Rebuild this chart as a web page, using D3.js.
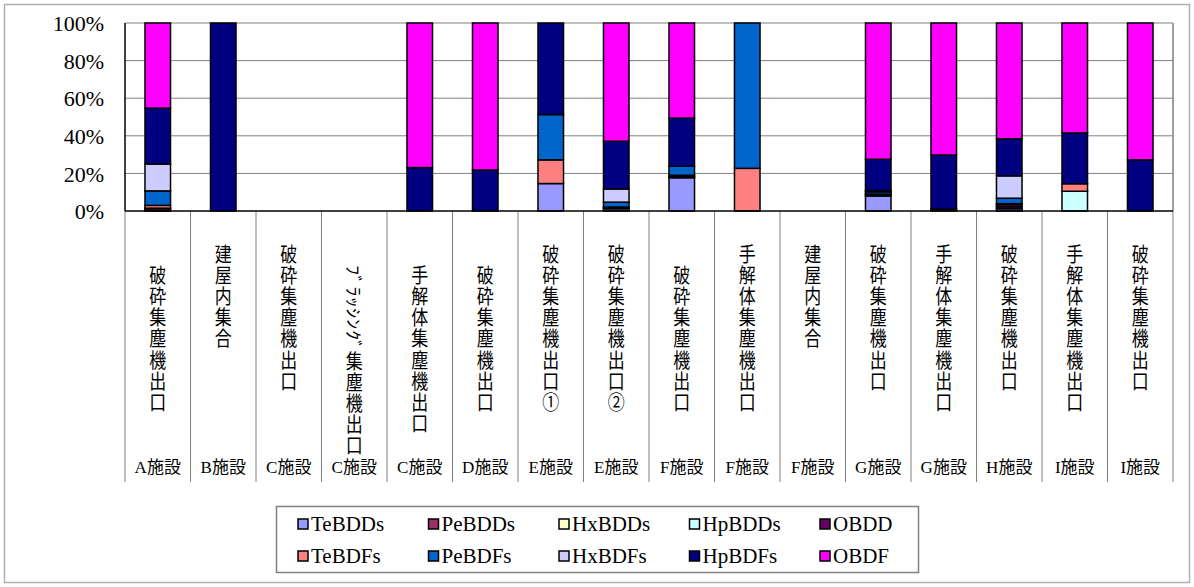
<!DOCTYPE html>
<html><head><meta charset="utf-8">
<script src="https://cdn.jsdelivr.net/npm/d3@7"></script>
<style>
html,body{margin:0;padding:0;background:#fff;}
svg{display:block;}
</style></head>
<body>
<svg id="chart" width="1194" height="587"></svg>
<script>
// ---- data ----
const categories = ["　破砕集塵機出口","建屋内集合","破砕集塵機出口","　ﾌﾞﾗｯｼﾝｸﾞ集塵機出口","　手解体集塵機出口","　破砕集塵機出口","破砕集塵機出口①","破砕集塵機出口②","　破砕集塵機出口","手解体集塵機出口","建屋内集合","破砕集塵機出口","手解体集塵機出口","破砕集塵機出口","手解体集塵機出口","破砕集塵機出口"];
const facilities = ["A施設","B施設","C施設","C施設","C施設","D施設","E施設","E施設","F施設","F施設","F施設","G施設","G施設","H施設","I施設","I施設"];
const seriesNames = ["TeBDDs","PeBDDs","HxBDDs","HpBDDs","OBDD","TeBDFs","PeBDFs","HxBDFs","HpBDFs","OBDF"];
const seriesColors = ["#9999FF","#993366","#FFFFCC","#CCFFFF","#660066","#FF8080","#0066CC","#CCCCFF","#000080","#FF00FF"];
const TeBDDs = [0.3,0,0,0,0,0,14.6,1.2,17.7,0,0,8.0,0,1.2,0,0];
const PeBDDs = [1.0,0,0,0,0,0,0,0.6,0.6,0,0,0.7,0,1.0,0,0];
const HxBDDs = [0,0,0,0,0,0,0,0,0,0,0,0,0,0,0,0];
const HpBDDs = [0,0,0,0,0,0,0,0,0,0,0,0,0,0,10.5,0];
const OBDD   = [0.2,0,0,0,0,0,0,0,0,0,0,0,0,1.2,0,0];
const TeBDFs = [1.5,0,0,0,0,0,12.6,0.3,0.7,22.7,0,0.3,1.0,0.5,4.0,0];
const PeBDFs = [7.7,0,0,0,0,0,24.1,2.6,4.8,77.3,0,1.2,0,2.9,0,0];
const HxBDFs = [14.3,0,0,0,0,0,0,7.0,0,0,0,0.6,0,11.9,0,0];
const HpBDFs = [29.7,100,0,0,23.1,21.8,48.7,25.4,25.6,0,0,16.7,28.8,19.7,27.0,27.2];
const OBDF   = [45.3,0,0,0,76.9,78.2,0,62.9,50.6,0,0,72.5,70.2,61.6,58.5,72.8];
const yTicks = [0,20,40,60,80,100];
const seriesValues = [TeBDDs,PeBDDs,HxBDDs,HpBDDs,OBDD,TeBDFs,PeBDFs,HxBDFs,HpBDFs,OBDF];

// ---- layout ----
const svg = d3.select("#chart");
const L = 125, R = 1173, T = 23, B = 211;
const catBottom = 482;

svg.append("rect").attr("x",4.5).attr("y",4.5).attr("width",1185).attr("height",578)
  .attr("fill","#fff").attr("stroke","#b0b0b0").attr("stroke-width",1.5);

const rows = categories.map((c,i)=>{ const o={idx:i}; seriesNames.forEach((s,k)=>o[s]=seriesValues[k][i]); return o; });
const x = d3.scaleBand().domain(d3.range(categories.length)).range([L,R]).padding(0);
const y = d3.scaleLinear().domain([0,100]).range([B,T]);
const barW = x.bandwidth()*0.39;

// gridlines
svg.append("g").selectAll("line").data(yTicks.filter(t=>t>0)).join("line")
  .attr("x1",L).attr("x2",R).attr("y1",d=>y(d)).attr("y2",d=>y(d))
  .attr("stroke","#808080").attr("stroke-width",1);
svg.append("line").attr("x1",R).attr("x2",R).attr("y1",T).attr("y2",B).attr("stroke","#808080").attr("stroke-width",1.5);

// category separators
svg.append("g").selectAll("line").data(d3.range(categories.length+1)).join("line")
  .attr("x1",d=>d<categories.length? x(d): R).attr("x2",d=>d<categories.length? x(d): R)
  .attr("y1",B).attr("y2",catBottom).attr("stroke","#808080").attr("stroke-width",1);

// stacks
const stack = d3.stack().keys(seriesNames)(rows);
svg.append("g").selectAll("g").data(stack).join("g")
  .attr("fill",(d,i)=>seriesColors[i])
  .selectAll("rect").data(d=>d.filter(p=>p[1]-p[0]>0)).join("rect")
  .attr("x",d=>x(d.data.idx)+(x.bandwidth()-barW)/2)
  .attr("width",barW)
  .attr("y",d=>y(d[1]))
  .attr("height",d=>y(d[0])-y(d[1]))
  .attr("stroke","#000").attr("stroke-width",1.5);

// axes lines
svg.append("line").attr("x1",L).attr("x2",L).attr("y1",T).attr("y2",B).attr("stroke","#000").attr("stroke-width",1.5);
svg.append("line").attr("x1",L).attr("x2",R).attr("y1",B).attr("y2",B).attr("stroke","#000").attr("stroke-width",1.5);

// y tick labels
const yAxis = d3.axisLeft(y).tickValues(yTicks).tickFormat(d=>d+"%").tickSize(0).tickPadding(0);
const ya = svg.append("g").attr("transform",`translate(${L-21},0)`).call(yAxis);
ya.select(".domain").remove();
ya.selectAll("text").attr("font-family","'Liberation Serif','DejaVu Serif',serif").attr("font-size",22).attr("fill","#000").attr("dy","0.35em");

// vertical category labels (one text each, vertical writing)
const labelTop = 244, sy = 1.2;
svg.append("g").selectAll("text").data(categories).join("text")
  .attr("transform",(d,i)=>`translate(${x(i)+x.bandwidth()/2},${labelTop}) scale(1,${sy})`)
  .attr("x",0).attr("y",0)
  .style("writing-mode","vertical-rl")
  .attr("text-anchor","start")
  .attr("letter-spacing","0.6px")
  .attr("font-family","'Noto Sans CJK JP',sans-serif").attr("font-size",17).attr("fill","#000")
  .text(d=>d);

// facility labels
svg.append("g").selectAll("text").data(facilities).join("text")
  .attr("x",(d,i)=>x(i)+x.bandwidth()/2).attr("y",467)
  .attr("text-anchor","middle").attr("dominant-baseline","central")
  .attr("font-family","'Liberation Serif','Noto Sans CJK JP',serif").attr("font-size",17).attr("fill","#000")
  .text(d=>d);

// legend
const lg = svg.append("g");
lg.append("rect").attr("x",276.5).attr("y",506.5).attr("width",642).attr("height",66)
  .attr("fill","#fff").attr("stroke","#808080").attr("stroke-width",1.5);
const legX = d3.scaleLinear().domain([0,4]).range([298,820]);
seriesNames.forEach((s,k)=>{
  const col = k%5, row = Math.floor(k/5);
  const lx = legX(col), ly = 524 + row*32;
  lg.append("rect").attr("x",lx).attr("y",ly-5).attr("width",10).attr("height",10)
    .attr("fill",seriesColors[k]).attr("stroke","#000").attr("stroke-width",1.5);
  lg.append("text").attr("x",lx+13).attr("y",ly).attr("dominant-baseline","central")
    .attr("font-family","'Liberation Serif','DejaVu Serif',serif").attr("font-size",21).attr("fill","#000")
    .text(s);
});
</script>
</body></html>
